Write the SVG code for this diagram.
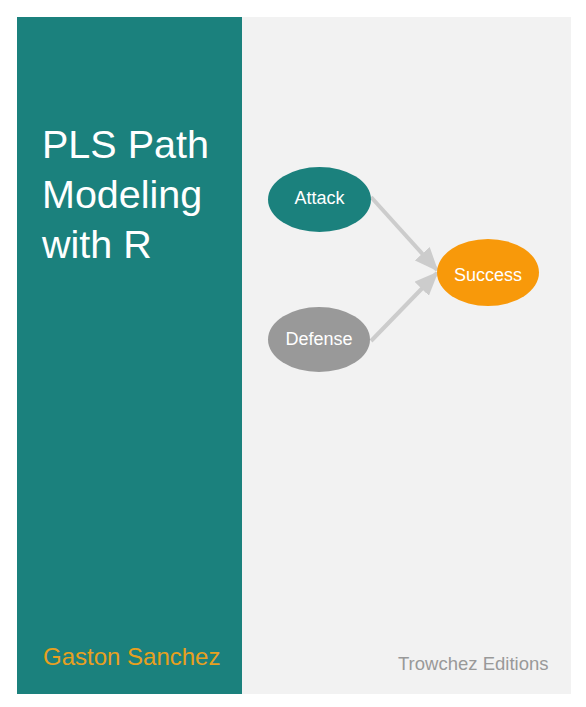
<svg xmlns="http://www.w3.org/2000/svg" width="586" height="707" viewBox="0 0 586 707">
<defs>
<style>
.lbl{font-family:"Liberation Sans",Arial,sans-serif;font-size:18px;fill:#ffffff;text-anchor:middle}
.title{font-family:"Liberation Sans",Arial,sans-serif;font-size:39.5px;fill:#ffffff}
.edge{stroke:#cccccc;stroke-width:4;fill:none}
</style>
<marker id="arr" markerUnits="userSpaceOnUse" markerWidth="24" markerHeight="20" viewBox="0 0 24 20" refX="22" refY="10" orient="auto">
<path d="M0,0 L24,10 L0,20 Z" fill="#cccccc"/>
</marker>
</defs>
<rect x="0" y="0" width="586" height="707" fill="#ffffff"/>
<rect id="left-panel" x="17" y="17" width="225" height="677" fill="#1b817d"/>
<rect id="right-panel" x="242" y="17" width="329" height="677" fill="#f2f2f2"/>
<g id="title">
<text class="title" x="42" y="158">PLS Path</text>
<text class="title" x="42" y="208">Modeling</text>
<text class="title" x="42" y="258">with R</text>
</g>
<g id="connectors">
<line class="edge" x1="371" y1="197" x2="437" y2="270" marker-end="url(#arr)"/>
<line class="edge" x1="371" y1="341" x2="437" y2="273" marker-end="url(#arr)"/>
</g>
<g id="attack">
<ellipse cx="319.5" cy="199.5" rx="51.5" ry="32.5" fill="#1b817d"/>
<text class="lbl" x="319.5" y="204">Attack</text>
</g>
<g id="success">
<ellipse cx="488" cy="272.5" rx="51" ry="33.5" fill="#f8990a"/>
<text class="lbl" x="488" y="281">Success</text>
</g>
<g id="defense">
<ellipse cx="319" cy="339.5" rx="51" ry="32.5" fill="#999999"/>
<text class="lbl" x="319" y="345">Defense</text>
</g>
<g id="author">
<text x="43" y="665" font-family="'Liberation Sans',Arial,sans-serif" font-size="24" fill="#e8a020">Gaston Sanchez</text>
</g>
<g id="publisher">
<text x="398" y="670" font-family="'Liberation Sans',Arial,sans-serif" font-size="18.5" fill="#999999">Trowchez Editions</text>
</g>
</svg>
